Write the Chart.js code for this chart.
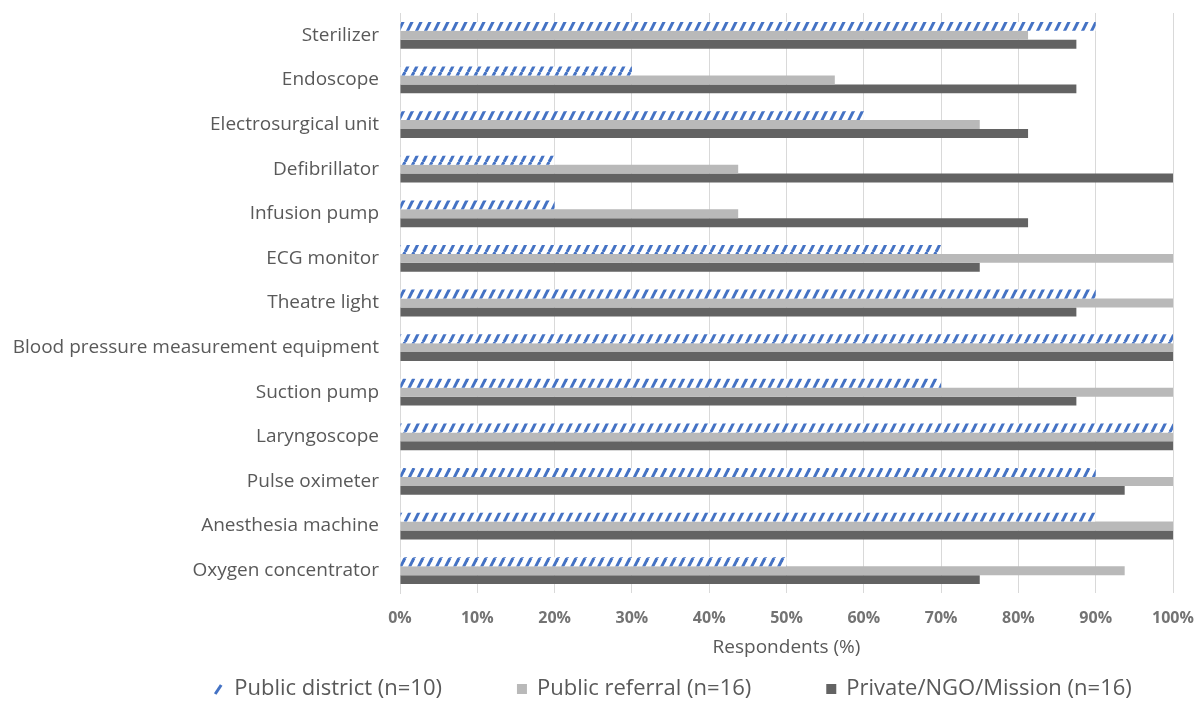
<!DOCTYPE html>
<html>
<head>
<meta charset="utf-8">
<script src="https://cdn.jsdelivr.net/npm/chart.js@4.4.1/dist/chart.umd.min.js"></script>
<style>
  html, body { margin: 0; padding: 0; background: #fff; }
</style>
</head>
<body>
<canvas id="bar-chart" width="1200" height="702"></canvas>
<script>
// categories top to bottom
const categories = ['Sterilizer', 'Endoscope', 'Electrosurgical unit', 'Defibrillator', 'Infusion pump',
  'ECG monitor', 'Theatre light', 'Blood pressure measurement equipment', 'Suction pump',
  'Laryngoscope', 'Pulse oximeter', 'Anesthesia machine', 'Oxygen concentrator'];

const seriesNames = ['Public district (n=10)', 'Public referral (n=16)', 'Private/NGO/Mission (n=16)'];

// respondents (%)
const publicDistrict = [90, 30, 60, 20, 20, 70, 90, 100, 70, 100, 90, 90, 50];
const publicReferral = [81.25, 56.25, 75, 43.75, 43.75, 100, 100, 100, 100, 100, 100, 100, 93.75];
const privateNgo = [87.5, 87.5, 81.25, 100, 81.25, 75, 87.5, 100, 87.5, 100, 93.75, 100, 75];

const xTicks = [0, 10, 20, 30, 40, 50, 60, 70, 80, 90, 100];

const blue = '#4472c4';
const lightGray = '#b9b9b9';
const darkGray = '#636363';
const textColor = '#595959';

// diagonal blue stripes on white for the public district bars
function makeHatch() {
    let tile = document.createElement('canvas');
    tile.width = 9;
    tile.height = 18;
    let g = tile.getContext('2d');
    g.fillStyle = '#fff';
    g.fillRect(0, 0, 9, 18);
    g.strokeStyle = blue;
    g.lineWidth = 3;
    for (let dx of [-9, 0, 9]) {
        g.beginPath();
        g.moveTo(dx, 18);
        g.lineTo(dx + 9, 0);
        g.stroke();
    }
    return g.createPattern(tile, 'repeat');
}

// legend drawn under the axis title
const bottomLegend = {
    id: 'bottomLegend',
    afterDraw(chart) {
        const ctx = chart.ctx;
        const box = 10, textGap = 10, gap = 75;
        const centerX = 676, y = 689;
        ctx.save();
        ctx.font = '22px "Open Sans"';
        ctx.textBaseline = 'middle';
        let widths = chart.data.datasets.map(d => box + textGap + ctx.measureText(d.label).width);
        let total = widths.reduce((a, b) => a + b, 0) + gap * (widths.length - 1);
        let x = centerX - total / 2 - 3;
        chart.data.datasets.forEach((d, i) => {
            if (i === 0) {
                ctx.strokeStyle = blue;
                ctx.lineWidth = 3;
                ctx.beginPath();
                ctx.moveTo(x + 1, y + 5);
                ctx.lineTo(x + 7, y - 4);
                ctx.stroke();
            } else {
                ctx.fillStyle = d.backgroundColor;
                ctx.fillRect(x, y - 5, box, box);
            }
            ctx.fillStyle = textColor;
            ctx.fillText(d.label, x + box + textGap, y);
            x += widths[i] + gap;
        });
        ctx.restore();
    }
};

const ctx = document.getElementById('bar-chart').getContext('2d');
let barChart = new Chart(ctx, {
    type: 'bar',
    data: {
        labels: categories,
        datasets: [
            { label: seriesNames[0], data: publicDistrict, backgroundColor: makeHatch() },
            { label: seriesNames[1], data: publicReferral, backgroundColor: lightGray },
            { label: seriesNames[2], data: privateNgo, backgroundColor: darkGray }
        ]
    },
    options: {
        responsive: false,
        animation: false,
        indexAxis: 'y',
        categoryPercentage: 0.6,
        barPercentage: 1.0,
        layout: {
            padding: { left: 0, right: 27, top: 13, bottom: 39 }
        },
        plugins: {
            legend: { display: false },
            tooltip: { enabled: false }
        },
        scales: {
            x: {
                min: 0,
                max: 100,
                afterBuildTicks: scale => { scale.ticks = xTicks.map(v => ({ value: v })); },
                afterFit: scale => {
                    scale.height = 70;
                    scale.paddingLeft = 0;
                    scale.paddingRight = 0;
                },
                grid: { color: '#d9d9d9', drawTicks: false },
                border: { display: false },
                ticks: {
                    padding: 16,
                    color: '#737373',
                    font: { family: 'Open Sans', size: 16, weight: 'bold' },
                    callback: v => v + '%'
                },
                title: {
                    display: true,
                    text: 'Respondents (%)',
                    color: textColor,
                    font: { family: 'Open Sans', size: 19 },
                    padding: { top: 0, bottom: 4 }
                }
            },
            y: {
                afterFit: scale => {
                    scale.width = 400;
                    scale.paddingTop = 0;
                    scale.paddingBottom = 0;
                },
                grid: { display: false, drawTicks: false },
                border: { color: '#d9d9d9' },
                ticks: {
                    padding: 21,
                    color: textColor,
                    font: { family: 'Open Sans', size: 19 }
                }
            }
        }
    },
    plugins: [bottomLegend]
});
</script>
</body>
</html>
